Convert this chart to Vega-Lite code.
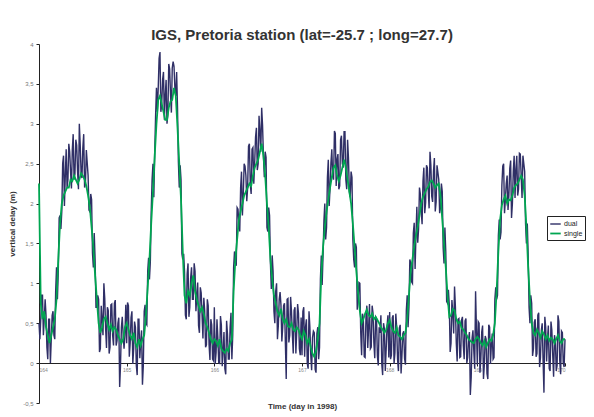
{
"$schema":"https://vega.github.io/schema/vega-lite/v6.json",
"width":526,"height":359,
"autosize":{"type":"none"},
"padding":{"left":39,"top":44,"right":29,"bottom":14},
"background":"white",
"title":{"text":"IGS, Pretoria station (lat=-25.7 ; long=27.7)","font":"Liberation Sans","fontSize":15,"fontWeight":"bold","color":"#333333","anchor":"middle","frame":"group","offset":3,"dy":17,"baseline":"alphabetic"},
"data":{"values":[
{"t":164.00,"dual":0.5,"single":2.25},{"t":164.02,"dual":0.55,"single":0.75},{"t":164.04,"dual":0.85,"single":0.55},{"t":164.06,"dual":0.55,"single":0.65},{"t":164.08,"dual":0.6,"single":0.45},{"t":164.10,"dual":0.05,"single":0.35},{"t":164.12,"dual":0.55,"single":0.25},{"t":164.14,"dual":0.3,"single":0.35},{"t":164.16,"dual":0.65,"single":0.45},{"t":164.18,"dual":0.3,"single":0.55},
{"t":164.20,"dual":1.2,"single":0.8},{"t":164.22,"dual":1.15,"single":1.3},{"t":164.24,"dual":1.85,"single":1.75},{"t":164.26,"dual":1.9,"single":2.0},{"t":164.28,"dual":2.6,"single":2.1},{"t":164.30,"dual":2.35,"single":2.15},{"t":164.32,"dual":2.2,"single":2.2},{"t":164.34,"dual":2.75,"single":2.2},{"t":164.36,"dual":2.4,"single":2.3},{"t":164.38,"dual":2.68,"single":2.28},
{"t":164.40,"dual":2.3,"single":2.35},{"t":164.42,"dual":2.8,"single":2.3},{"t":164.44,"dual":2.4,"single":2.25},{"t":164.46,"dual":3.0,"single":2.3},{"t":164.48,"dual":2.38,"single":2.38},{"t":164.50,"dual":2.7,"single":2.35},{"t":164.52,"dual":2.2,"single":2.3},{"t":164.54,"dual":2.67,"single":2.22},{"t":164.56,"dual":2.35,"single":2.1},{"t":164.58,"dual":1.9,"single":1.95},
{"t":164.60,"dual":2.05,"single":1.7},{"t":164.62,"dual":1.2,"single":1.45},{"t":164.64,"dual":1.3,"single":1.1},{"t":164.66,"dual":0.7,"single":0.8},{"t":164.68,"dual":0.8,"single":0.5},{"t":164.70,"dual":0.18,"single":0.38},{"t":164.72,"dual":0.55,"single":0.45},{"t":164.74,"dual":1.0,"single":0.55},{"t":164.76,"dual":0.43,"single":0.58},{"t":164.78,"dual":0.7,"single":0.5},
{"t":164.80,"dual":0.12,"single":0.42},{"t":164.82,"dual":0.73,"single":0.48},{"t":164.84,"dual":0.35,"single":0.4},{"t":164.86,"dual":0.75,"single":0.45},{"t":164.88,"dual":0.22,"single":0.42},{"t":164.90,"dual":0.5,"single":0.35},{"t":164.92,"dual":-0.3,"single":0.3},{"t":164.94,"dual":0.45,"single":0.25},{"t":164.96,"dual":0.35,"single":0.3},{"t":164.98,"dual":0.35,"single":0.45},
{"t":165.00,"dual":0.25,"single":0.5},{"t":165.02,"dual":0.72,"single":0.42},{"t":165.04,"dual":0.25,"single":0.35},{"t":165.06,"dual":0.65,"single":0.3},{"t":165.08,"dual":0.18,"single":0.38},{"t":165.10,"dual":0.45,"single":0.25},{"t":165.12,"dual":-0.15,"single":0.2},{"t":165.14,"dual":0.55,"single":0.3},{"t":165.16,"dual":0.27,"single":0.22},{"t":165.18,"dual":-0.27,"single":0.3},
{"t":165.20,"dual":0.65,"single":0.35},{"t":165.22,"dual":0.5,"single":0.6},{"t":165.24,"dual":1.15,"single":0.95},{"t":165.26,"dual":1.05,"single":1.3},{"t":165.28,"dual":1.9,"single":1.75},{"t":165.30,"dual":2.5,"single":2.15},{"t":165.32,"dual":2.65,"single":2.6},{"t":165.34,"dual":3.45,"single":3.0},{"t":165.36,"dual":3.45,"single":3.3},{"t":165.38,"dual":3.9,"single":3.35},
{"t":165.40,"dual":3.25,"single":3.25},{"t":165.42,"dual":3.65,"single":3.15},{"t":165.44,"dual":3.35,"single":3.05},{"t":165.46,"dual":3.0,"single":3.05},{"t":165.48,"dual":3.75,"single":3.2},{"t":165.50,"dual":3.38,"single":3.28},{"t":165.52,"dual":3.7,"single":3.3},{"t":165.54,"dual":3.72,"single":3.45},{"t":165.56,"dual":3.35,"single":3.35},{"t":165.58,"dual":3.2,"single":2.95},
{"t":165.60,"dual":2.2,"single":2.5},{"t":165.62,"dual":2.3,"single":2.05},{"t":165.64,"dual":1.3,"single":1.4},{"t":165.66,"dual":1.15,"single":0.85},{"t":165.68,"dual":0.55,"single":0.75},{"t":165.70,"dual":1.25,"single":0.9},{"t":165.72,"dual":0.7,"single":0.85},{"t":165.74,"dual":1.2,"single":1.0},{"t":165.76,"dual":0.8,"single":1.1},{"t":165.78,"dual":1.15,"single":0.9},
{"t":165.80,"dual":0.85,"single":0.8},{"t":165.82,"dual":0.47,"single":0.72},{"t":165.84,"dual":0.95,"single":0.65},{"t":165.86,"dual":0.6,"single":0.7},{"t":165.88,"dual":0.82,"single":0.62},{"t":165.90,"dual":0.2,"single":0.5},{"t":165.92,"dual":0.8,"single":0.45},{"t":165.94,"dual":0.23,"single":0.38},{"t":165.96,"dual":0.55,"single":0.3},{"t":165.98,"dual":0.05,"single":0.25},
{"t":166.00,"dual":0.7,"single":0.3},{"t":166.02,"dual":0.13,"single":0.28},{"t":166.04,"dual":0.32,"single":0.22},{"t":166.06,"dual":0.0,"single":0.3},{"t":166.08,"dual":0.48,"single":0.18},{"t":166.10,"dual":0.15,"single":0.15},{"t":166.12,"dual":-0.07,"single":0.13},{"t":166.14,"dual":0.53,"single":0.18},{"t":166.16,"dual":0.05,"single":0.15},{"t":166.18,"dual":0.45,"single":0.25},
{"t":166.20,"dual":0.05,"single":0.3},{"t":166.22,"dual":1.2,"single":0.9},{"t":166.24,"dual":1.25,"single":1.3},{"t":166.26,"dual":1.95,"single":1.55},{"t":166.28,"dual":1.75,"single":1.8},{"t":166.30,"dual":2.2,"single":1.9},{"t":166.32,"dual":1.85,"single":2.0},{"t":166.34,"dual":2.5,"single":2.1},{"t":166.36,"dual":2.35,"single":2.15},{"t":166.38,"dual":2.2,"single":2.2},
{"t":166.40,"dual":2.75,"single":2.25},{"t":166.42,"dual":2.12,"single":2.22},{"t":166.44,"dual":2.7,"single":2.35},{"t":166.46,"dual":2.5,"single":2.45},{"t":166.48,"dual":2.95,"single":2.5},{"t":166.50,"dual":2.5,"single":2.55},{"t":166.52,"dual":2.9,"single":2.65},{"t":166.54,"dual":3.2,"single":2.75},{"t":166.56,"dual":2.6,"single":2.6},{"t":166.58,"dual":2.65,"single":2.35},
{"t":166.60,"dual":1.7,"single":2.0},{"t":166.62,"dual":1.95,"single":1.7},{"t":166.64,"dual":1.25,"single":1.3},{"t":166.66,"dual":1.35,"single":1.05},{"t":166.68,"dual":0.65,"single":0.85},{"t":166.70,"dual":0.9,"single":0.75},{"t":166.72,"dual":0.3,"single":0.65},{"t":166.74,"dual":0.8,"single":0.6},{"t":166.76,"dual":0.73,"single":0.68},{"t":166.78,"dual":0.45,"single":0.55},
{"t":166.80,"dual":0.75,"single":0.5},{"t":166.82,"dual":-0.2,"single":0.55},{"t":166.84,"dual":0.81,"single":0.46},{"t":166.86,"dual":0.35,"single":0.45},{"t":166.88,"dual":0.65,"single":0.5},{"t":166.90,"dual":0.12,"single":0.42},{"t":166.92,"dual":0.7,"single":0.4},{"t":166.94,"dual":0.4,"single":0.45},{"t":166.96,"dual":0.62,"single":0.42},{"t":166.98,"dual":0.1,"single":0.35},
{"t":167.00,"dual":0.1,"single":0.3},{"t":167.02,"dual":0.7,"single":0.4},{"t":167.04,"dual":0.45,"single":0.35},{"t":167.06,"dual":0.0,"single":0.25},{"t":167.08,"dual":0.65,"single":0.3},{"t":167.10,"dual":0.1,"single":0.2},{"t":167.12,"dual":0.32,"single":0.12},{"t":167.14,"dual":0.38,"single":0.08},{"t":167.16,"dual":-0.12,"single":0.15},{"t":167.18,"dual":0.45,"single":0.3},
{"t":167.20,"dual":0.2,"single":0.5},{"t":167.22,"dual":1.35,"single":1.1},{"t":167.24,"dual":1.35,"single":1.45},{"t":167.26,"dual":2.0,"single":1.7},{"t":167.28,"dual":1.7,"single":1.9},{"t":167.30,"dual":2.55,"single":2.05},{"t":167.32,"dual":2.2,"single":2.2},{"t":167.34,"dual":2.68,"single":2.33},{"t":167.36,"dual":2.3,"single":2.45},{"t":167.38,"dual":2.88,"single":2.48},
{"t":167.40,"dual":2.55,"single":2.35},{"t":167.42,"dual":2.18,"single":2.28},{"t":167.44,"dual":2.8,"single":2.35},{"t":167.46,"dual":2.5,"single":2.45},{"t":167.48,"dual":2.9,"single":2.55},{"t":167.50,"dual":2.3,"single":2.45},{"t":167.52,"dual":2.8,"single":2.3},{"t":167.54,"dual":2.15,"single":2.15},{"t":167.56,"dual":2.4,"single":2.0},{"t":167.58,"dual":1.55,"single":1.75},
{"t":167.60,"dual":1.2,"single":1.45},{"t":167.62,"dual":1.45,"single":1.15},{"t":167.64,"dual":0.78,"single":0.88},{"t":167.66,"dual":1.0,"single":0.65},{"t":167.68,"dual":0.1,"single":0.5},{"t":167.70,"dual":0.55,"single":0.55},{"t":167.72,"dual":0.07,"single":0.62},{"t":167.74,"dual":0.72,"single":0.67},{"t":167.76,"dual":0.45,"single":0.6},{"t":167.78,"dual":0.18,"single":0.58},
{"t":167.80,"dual":0.72,"single":0.62},{"t":167.82,"dual":0.25,"single":0.55},{"t":167.84,"dual":0.58,"single":0.58},{"t":167.86,"dual":0.09,"single":0.54},{"t":167.88,"dual":0.45,"single":0.5},{"t":167.90,"dual":0.6,"single":0.45},{"t":167.92,"dual":-0.15,"single":0.42},{"t":167.94,"dual":0.43,"single":0.38},{"t":167.96,"dual":0.17,"single":0.42},{"t":167.98,"dual":0.6,"single":0.5},
{"t":168.00,"dual":0.64,"single":0.54},{"t":168.02,"dual":0.1,"single":0.45},{"t":168.04,"dual":0.6,"single":0.4},{"t":168.06,"dual":0.13,"single":0.38},{"t":168.08,"dual":0.45,"single":0.45},{"t":168.10,"dual":-0.1,"single":0.35},{"t":168.12,"dual":0.48,"single":0.33},{"t":168.14,"dual":0.1,"single":0.3},{"t":168.16,"dual":0.4,"single":0.35},{"t":168.18,"dual":-0.02,"single":0.38},
{"t":168.20,"dual":0.85,"single":0.55},{"t":168.22,"dual":0.7,"single":0.85},{"t":168.24,"dual":1.25,"single":1.15},{"t":168.26,"dual":1.0,"single":1.3},{"t":168.28,"dual":1.76,"single":1.46},{"t":168.30,"dual":1.6,"single":1.6},{"t":168.32,"dual":1.51,"single":1.71},{"t":168.34,"dual":2.2,"single":1.85},{"t":168.36,"dual":1.9,"single":2.0},{"t":168.38,"dual":2.28,"single":2.08},
{"t":168.40,"dual":1.88,"single":2.13},{"t":168.42,"dual":2.48,"single":2.18},{"t":168.44,"dual":2.16,"single":2.21},{"t":168.46,"dual":2.65,"single":2.27},{"t":168.48,"dual":2.09,"single":2.29},{"t":168.50,"dual":2.4,"single":2.25},{"t":168.52,"dual":1.9,"single":2.2},{"t":168.54,"dual":2.48,"single":2.23},{"t":168.56,"dual":2.3,"single":2.25},{"t":168.58,"dual":1.95,"single":2.1},
{"t":168.60,"dual":2.15,"single":1.8},{"t":168.62,"dual":1.25,"single":1.5},{"t":168.64,"dual":1.4,"single":1.2},{"t":168.66,"dual":0.75,"single":0.85},{"t":168.68,"dual":0.73,"single":0.58},{"t":168.70,"dual":0.25,"single":0.6},{"t":168.72,"dual":0.63,"single":0.68},{"t":168.74,"dual":0.96,"single":0.66},{"t":168.76,"dual":0.25,"single":0.55},{"t":168.78,"dual":0.55,"single":0.5},
{"t":168.80,"dual":0.07,"single":0.52},{"t":168.82,"dual":0.54,"single":0.44},{"t":168.84,"dual":0.22,"single":0.42},{"t":168.86,"dual":0.53,"single":0.38},{"t":168.88,"dual":0.0,"single":0.35},{"t":168.90,"dual":0.3,"single":0.3},{"t":168.92,"dual":-0.4,"single":0.28},{"t":168.94,"dual":0.31,"single":0.26},{"t":168.96,"dual":0.15,"single":0.25},{"t":168.98,"dual":0.9,"single":0.3},
{"t":169.00,"dual":-0.02,"single":0.33},{"t":169.02,"dual":0.5,"single":0.3},{"t":169.04,"dual":0.05,"single":0.25},{"t":169.06,"dual":0.47,"single":0.22},{"t":169.08,"dual":-0.02,"single":0.28},{"t":169.10,"dual":0.3,"single":0.2},{"t":169.12,"dual":-0.2,"single":0.25},{"t":169.14,"dual":0.45,"single":0.3},{"t":169.16,"dual":0.23,"single":0.28},{"t":169.18,"dual":0.05,"single":0.35},
{"t":169.20,"dual":0.8,"single":0.5},{"t":169.22,"dual":0.8,"single":0.9},{"t":169.24,"dual":1.6,"single":1.4},{"t":169.26,"dual":1.55,"single":1.8},{"t":169.28,"dual":2.23,"single":1.98},{"t":169.30,"dual":2.5,"single":2.05},{"t":169.32,"dual":2.05,"single":2.1},{"t":169.34,"dual":2.35,"single":2.0},{"t":169.36,"dual":2.1,"single":2.05},{"t":169.38,"dual":2.54,"single":2.04},
{"t":169.40,"dual":2.0,"single":2.1},{"t":169.42,"dual":2.6,"single":2.2},{"t":169.44,"dual":2.43,"single":2.23},{"t":169.46,"dual":2.1,"single":2.25},{"t":169.48,"dual":2.63,"single":2.3},{"t":169.50,"dual":2.35,"single":2.35},{"t":169.52,"dual":2.6,"single":2.3},{"t":169.54,"dual":2.4,"single":2.1},{"t":169.56,"dual":1.5,"single":1.7},{"t":169.58,"dual":1.35,"single":1.2},
{"t":169.60,"dual":0.5,"single":0.8},{"t":169.62,"dual":0.75,"single":0.5},{"t":169.64,"dual":0.18,"single":0.38},{"t":169.66,"dual":0.55,"single":0.35},{"t":169.68,"dual":0.12,"single":0.42},{"t":169.70,"dual":0.63,"single":0.38},{"t":169.72,"dual":0.07,"single":0.32},{"t":169.74,"dual":0.5,"single":0.4},{"t":169.76,"dual":-0.37,"single":0.36},{"t":169.78,"dual":0.45,"single":0.3},
{"t":169.80,"dual":0.3,"single":0.35},{"t":169.82,"dual":-0.07,"single":0.28},{"t":169.84,"dual":0.52,"single":0.32},{"t":169.86,"dual":0.1,"single":0.3},{"t":169.88,"dual":0.35,"single":0.25},{"t":169.90,"dual":-0.1,"single":0.3},{"t":169.92,"dual":0.6,"single":0.35},{"t":169.94,"dual":0.03,"single":0.28},{"t":169.96,"dual":0.4,"single":0.25},{"t":169.98,"dual":0.0,"single":0.3},
{"t":170.00,"dual":0.3,"single":0.3},
{"t":164.01,"dual":0.3},{"t":164.03,"dual":0.85},{"t":164.05,"dual":0.35},{"t":164.07,"dual":0.8},{"t":164.09,"dual":0.2},{"t":164.11,"dual":0.55},{"t":164.13,"dual":0.0},{"t":164.15,"dual":0.6},{"t":164.17,"dual":0.35},{"t":164.19,"dual":0.9},
{"t":164.21,"dual":0.8},{"t":164.23,"dual":1.82},{"t":164.25,"dual":1.68},{"t":164.27,"dual":2.5},{"t":164.29,"dual":1.97},{"t":164.31,"dual":2.68},{"t":164.33,"dual":2.3},{"t":164.35,"dual":2.65},{"t":164.37,"dual":2.19},{"t":164.39,"dual":2.87},
{"t":164.41,"dual":2.37},{"t":164.43,"dual":2.73},{"t":164.45,"dual":2.18},{"t":164.47,"dual":2.74},{"t":164.49,"dual":2.32},{"t":164.51,"dual":2.87},{"t":164.53,"dual":2.26},{"t":164.55,"dual":2.51},{"t":164.57,"dual":1.92},{"t":164.59,"dual":2.12},
{"t":164.61,"dual":1.38},{"t":164.63,"dual":1.63},{"t":164.65,"dual":0.7},{"t":164.67,"dual":0.85},{"t":164.69,"dual":0.14},{"t":164.71,"dual":0.72},{"t":164.73,"dual":0.35},{"t":164.75,"dual":0.81},{"t":164.77,"dual":0.19},{"t":164.79,"dual":0.66},
{"t":164.81,"dual":0.2},{"t":164.83,"dual":0.74},{"t":164.85,"dual":0.22},{"t":164.87,"dual":0.79},{"t":164.89,"dual":0.28},{"t":164.91,"dual":0.57},{"t":164.93,"dual":-0.02},{"t":164.95,"dual":0.58},{"t":164.97,"dual":0.18},{"t":164.99,"dual":0.73},
{"t":165.01,"dual":0.76},{"t":165.03,"dual":0.08},{"t":165.05,"dual":0.57},{"t":165.07,"dual":-0.01},{"t":165.09,"dual":0.52},{"t":165.11,"dual":-0.03},{"t":165.13,"dual":0.55},{"t":165.15,"dual":0.06},{"t":165.17,"dual":0.41},{"t":165.19,"dual":-0.03},
{"t":165.21,"dual":0.73},{"t":165.23,"dual":0.48},{"t":165.25,"dual":1.32},{"t":165.27,"dual":1.27},{"t":165.29,"dual":2.3},{"t":165.31,"dual":2.08},{"t":165.33,"dual":3.1},{"t":165.35,"dual":3.15},{"t":165.37,"dual":3.82},{"t":165.39,"dual":3.15},
{"t":165.41,"dual":3.55},{"t":165.43,"dual":3.05},{"t":165.45,"dual":3.55},{"t":165.47,"dual":3.12},{"t":165.49,"dual":3.69},{"t":165.51,"dual":3.14},{"t":165.53,"dual":3.78},{"t":165.55,"dual":3.45},{"t":165.57,"dual":3.65},{"t":165.59,"dual":2.52},
{"t":165.61,"dual":2.48},{"t":165.63,"dual":1.37},{"t":165.65,"dual":1.37},{"t":165.67,"dual":0.6},{"t":165.69,"dual":1.12},{"t":165.71,"dual":0.58},{"t":165.73,"dual":1.07},{"t":165.75,"dual":0.8},{"t":165.77,"dual":1.25},{"t":165.79,"dual":0.65},
{"t":165.81,"dual":1.01},{"t":165.83,"dual":0.38},{"t":165.85,"dual":0.88},{"t":165.87,"dual":0.31},{"t":165.89,"dual":0.66},{"t":165.91,"dual":0.23},{"t":165.93,"dual":0.72},{"t":165.95,"dual":0.04},{"t":165.97,"dual":0.48},{"t":165.99,"dual":0.03},
{"t":166.01,"dual":-0.01},{"t":166.03,"dual":0.55},{"t":166.05,"dual":0.01},{"t":166.07,"dual":0.59},{"t":166.09,"dual":-0.04},{"t":166.11,"dual":0.39},{"t":166.13,"dual":-0.14},{"t":166.15,"dual":0.36},{"t":166.17,"dual":0.05},{"t":166.19,"dual":0.63},
{"t":166.21,"dual":0.35},{"t":166.23,"dual":1.4},{"t":166.25,"dual":1.22},{"t":166.27,"dual":1.93},{"t":166.29,"dual":1.65},{"t":166.31,"dual":2.4},{"t":166.33,"dual":2.1},{"t":166.35,"dual":2.47},{"t":166.37,"dual":2.03},{"t":166.39,"dual":2.72},
{"t":166.41,"dual":2.24},{"t":166.43,"dual":2.68},{"t":166.45,"dual":2.25},{"t":166.47,"dual":2.83},{"t":166.49,"dual":2.42},{"t":166.51,"dual":3.1},{"t":166.53,"dual":2.65},{"t":166.55,"dual":2.98},{"t":166.57,"dual":2.33},{"t":166.59,"dual":2.58},
{"t":166.61,"dual":1.65},{"t":166.63,"dual":1.85},{"t":166.65,"dual":0.93},{"t":166.67,"dual":1.15},{"t":166.69,"dual":0.5},{"t":166.71,"dual":1.0},{"t":166.73,"dual":0.47},{"t":166.75,"dual":0.89},{"t":166.77,"dual":0.27},{"t":166.79,"dual":0.72},
{"t":166.81,"dual":0.27},{"t":166.83,"dual":0.8},{"t":166.85,"dual":0.26},{"t":166.87,"dual":0.83},{"t":166.89,"dual":0.36},{"t":166.91,"dual":0.66},{"t":166.93,"dual":0.12},{"t":166.95,"dual":0.74},{"t":166.97,"dual":0.18},{"t":166.99,"dual":0.57},
{"t":167.01,"dual":0.65},{"t":167.03,"dual":0.08},{"t":167.05,"dual":0.55},{"t":167.07,"dual":-0.07},{"t":167.09,"dual":0.45},{"t":167.11,"dual":-0.09},{"t":167.13,"dual":0.4},{"t":167.15,"dual":-0.08},{"t":167.17,"dual":0.37},{"t":167.19,"dual":0.05},
{"t":167.21,"dual":1.05},{"t":167.23,"dual":0.98},{"t":167.25,"dual":1.78},{"t":167.27,"dual":1.55},{"t":167.29,"dual":2.33},{"t":167.31,"dual":1.97},{"t":167.33,"dual":2.51},{"t":167.35,"dual":2.34},{"t":167.37,"dual":2.91},{"t":167.39,"dual":2.22},
{"t":167.41,"dual":2.62},{"t":167.43,"dual":2.22},{"t":167.45,"dual":2.85},{"t":167.47,"dual":2.45},{"t":167.49,"dual":2.9},{"t":167.51,"dual":2.18},{"t":167.53,"dual":2.57},{"t":167.55,"dual":2.08},{"t":167.57,"dual":2.33},{"t":167.59,"dual":1.3},
{"t":167.61,"dual":1.5},{"t":167.63,"dual":0.67},{"t":167.65,"dual":1.01},{"t":167.67,"dual":0.38},{"t":167.69,"dual":0.62},{"t":167.71,"dual":0.08},{"t":167.73,"dual":0.59},{"t":167.75,"dual":0.19},{"t":167.77,"dual":0.74},{"t":167.79,"dual":0.2},
{"t":167.81,"dual":0.63},{"t":167.83,"dual":0.06},{"t":167.85,"dual":0.56},{"t":167.87,"dual":-0.03},{"t":167.89,"dual":0.38},{"t":167.91,"dual":-0.01},{"t":167.93,"dual":0.5},{"t":167.95,"dual":-0.1},{"t":167.97,"dual":0.46},{"t":167.99,"dual":0.07},
{"t":168.01,"dual":0.05},{"t":168.03,"dual":0.57},{"t":168.05,"dual":-0.01},{"t":168.07,"dual":0.62},{"t":168.09,"dual":0.05},{"t":168.11,"dual":0.44},{"t":168.13,"dual":-0.13},{"t":168.15,"dual":0.37},{"t":168.17,"dual":0.06},{"t":168.19,"dual":0.66},
{"t":168.21,"dual":0.45},{"t":168.23,"dual":1.3},{"t":168.25,"dual":1.02},{"t":168.27,"dual":1.63},{"t":168.29,"dual":1.18},{"t":168.31,"dual":1.96},{"t":168.33,"dual":1.68},{"t":168.35,"dual":2.12},{"t":168.37,"dual":1.74},{"t":168.39,"dual":2.45},
{"t":168.41,"dual":2.01},{"t":168.43,"dual":2.45},{"t":168.45,"dual":1.94},{"t":168.47,"dual":2.48},{"t":168.49,"dual":2.02},{"t":168.51,"dual":2.57},{"t":168.53,"dual":2.02},{"t":168.55,"dual":2.39},{"t":168.57,"dual":1.88},{"t":168.59,"dual":2.25},
{"t":168.61,"dual":1.45},{"t":168.63,"dual":1.7},{"t":168.65,"dual":0.77},{"t":168.67,"dual":0.92},{"t":168.69,"dual":0.14},{"t":168.71,"dual":0.79},{"t":168.73,"dual":0.37},{"t":168.75,"dual":0.7},{"t":168.77,"dual":0.02},{"t":168.79,"dual":0.56},
{"t":168.81,"dual":0.08},{"t":168.83,"dual":0.58},{"t":168.85,"dual":0.05},{"t":168.87,"dual":0.56},{"t":168.89,"dual":0.07},{"t":168.91,"dual":0.39},{"t":168.93,"dual":-0.18},{"t":168.95,"dual":0.41},{"t":168.97,"dual":-0.07},{"t":168.99,"dual":0.42},
{"t":169.01,"dual":0.52},{"t":169.03,"dual":-0.12},{"t":169.05,"dual":0.39},{"t":169.07,"dual":-0.2},{"t":169.09,"dual":0.34},{"t":169.11,"dual":-0.13},{"t":169.13,"dual":0.48},{"t":169.15,"dual":-0.01},{"t":169.17,"dual":0.37},{"t":169.19,"dual":0.07},
{"t":169.21,"dual":0.95},{"t":169.23,"dual":0.85},{"t":169.25,"dual":1.8},{"t":169.27,"dual":1.64},{"t":169.29,"dual":2.47},{"t":169.31,"dual":1.88},{"t":169.33,"dual":2.25},{"t":169.35,"dual":1.92},{"t":169.37,"dual":2.44},{"t":169.39,"dual":1.82},
{"t":169.41,"dual":2.4},{"t":169.43,"dual":2.07},{"t":169.45,"dual":2.6},{"t":169.47,"dual":2.18},{"t":169.49,"dual":2.62},{"t":169.51,"dual":2.07},{"t":169.53,"dual":2.5},{"t":169.55,"dual":1.75},{"t":169.57,"dual":1.75},{"t":169.59,"dual":0.7},
{"t":169.61,"dual":0.85},{"t":169.63,"dual":0.09},{"t":169.65,"dual":0.51},{"t":169.67,"dual":0.08},{"t":169.69,"dual":0.6},{"t":169.71,"dual":-0.05},{"t":169.73,"dual":0.41},{"t":169.75,"dual":0.03},{"t":169.77,"dual":0.58},{"t":169.79,"dual":0.02},
{"t":169.81,"dual":0.47},{"t":169.83,"dual":-0.1},{"t":169.85,"dual":0.41},{"t":169.87,"dual":-0.17},{"t":169.89,"dual":0.28},{"t":169.91,"dual":-0.03},{"t":169.93,"dual":0.52},{"t":169.95,"dual":-0.14},{"t":169.97,"dual":0.38},{"t":169.99,"dual":-0.05}
]},
"transform":[{"fold":["dual","single"],"as":["series","v"]}],
"mark":{"type":"line","interpolate":"linear","invalid":"filter"},
"encoding":{
"x":{"field":"t","type":"quantitative","scale":{"domain":[164,170],"nice":false,"zero":false},
 "axis":{"values":[164,165,166,167,168,169,170],"format":"d","offset":-40,"title":"Time (day in 1998)","titleY":39,"titleBaseline":"top","titleFont":"Liberation Sans","titleFontSize":8,"titleFontWeight":"bold","titleColor":"#333333","labelFont":"Liberation Sans","labelFontSize":5,"labelColor":"#888888","labelPadding":1,"tickSize":3,"tickColor":"#222222","domainColor":"#222222","grid":false}},
"y":{"field":"v","type":"quantitative","scale":{"domain":[-0.5,4],"nice":false,"zero":false},
 "axis":{"values":[-0.5,0,0.5,1,1.5,2,2.5,3,3.5,4],"labelExpr":"replace(toString(datum.value),'.',',')","title":"vertical delay (m)","titleFont":"Liberation Sans","titleFontSize":8,"titleFontWeight":"bold","titleColor":"#333333","titlePadding":6,"labelFont":"Liberation Sans","labelFontSize":6,"labelColor":"#777777","labelPadding":3,"tickSize":3,"tickColor":"#222222","domainColor":"#222222","grid":false}},
"color":{"field":"series","type":"nominal","scale":{"domain":["dual","single"],"range":["#2f2f66","#00a651"]},
 "legend":{"orient":"none","legendX":508,"legendY":172,"title":null,"strokeColor":"#222222","fillColor":"white","padding":2,"labelFont":"Liberation Sans","labelFontSize":7,"labelColor":"#222222","symbolType":"stroke","symbolSize":110,"symbolStrokeWidth":1.5,"rowPadding":0,"labelOffset":2}},
"strokeWidth":{"field":"series","type":"nominal","scale":{"domain":["dual","single"],"range":[1.4,1.8]},"legend":null}
},
"config":{"view":{"stroke":null}}
}
